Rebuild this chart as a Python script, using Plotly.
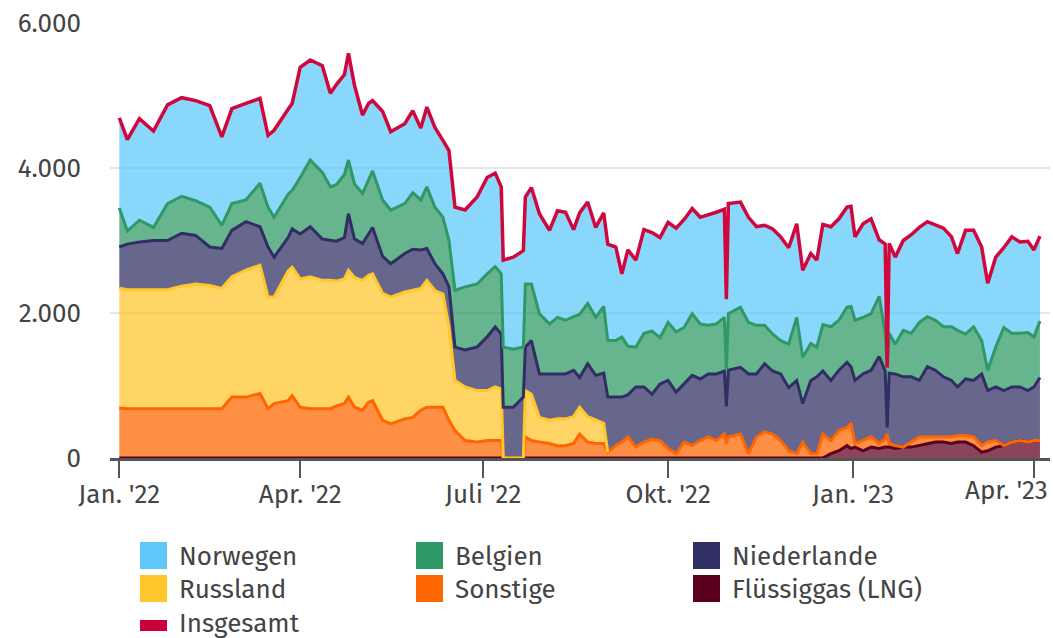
import plotly.graph_objects as go

# Gasimporte nach Deutschland (GWh/Tag)
dates = [
    "2022-01-01", "2022-01-05", "2022-01-11", "2022-01-18", "2022-01-25", "2022-02-01",
    "2022-02-08", "2022-02-15", "2022-02-21", "2022-02-26", "2022-03-05", "2022-03-12",
    "2022-03-16", "2022-03-19", "2022-03-26", "2022-03-28", "2022-04-01", "2022-04-06",
    "2022-04-12", "2022-04-16", "2022-04-19", "2022-04-23", "2022-04-25", "2022-04-28",
    "2022-05-02", "2022-05-05", "2022-05-07", "2022-05-12", "2022-05-16", "2022-05-23",
    "2022-05-27", "2022-05-31", "2022-06-03", "2022-06-07", "2022-06-11", "2022-06-14",
    "2022-06-17", "2022-06-22", "2022-06-28", "2022-07-03", "2022-07-07", "2022-07-10",
    "2022-07-11", "2022-07-16", "2022-07-21", "2022-07-22", "2022-07-25", "2022-07-29",
    "2022-08-03", "2022-08-07", "2022-08-11", "2022-08-15", "2022-08-18", "2022-08-22",
    "2022-08-26", "2022-08-30", "2022-09-01", "2022-09-05", "2022-09-08", "2022-09-11",
    "2022-09-15", "2022-09-19", "2022-09-23", "2022-09-27", "2022-10-01", "2022-10-05",
    "2022-10-09", "2022-10-13", "2022-10-17", "2022-10-21", "2022-10-25", "2022-10-29",
    "2022-10-30", "2022-10-31", "2022-11-06", "2022-11-10", "2022-11-14", "2022-11-18",
    "2022-11-22", "2022-11-26", "2022-11-30", "2022-12-04", "2022-12-07", "2022-12-11",
    "2022-12-14", "2022-12-17", "2022-12-21", "2022-12-25", "2022-12-29", "2022-12-31",
    "2023-01-02", "2023-01-06", "2023-01-10", "2023-01-14", "2023-01-17", "2023-01-18",
    "2023-01-19", "2023-01-22", "2023-01-26", "2023-01-30", "2023-02-03", "2023-02-07",
    "2023-02-11", "2023-02-15", "2023-02-19", "2023-02-22", "2023-02-26", "2023-03-02",
    "2023-03-06", "2023-03-09", "2023-03-13", "2023-03-17", "2023-03-21", "2023-03-25",
    "2023-03-29", "2023-04-01", "2023-04-04",
]

norwegen = [
    1240, 1260, 1400, 1330, 1360, 1360, 1380, 1400, 1220, 1310, 1330, 1170,
    990, 1200, 1170, 1200, 1520, 1380, 1470, 1290, 1380, 1380, 1470, 1360,
    1080, 1060, 970, 1220, 1080, 1100, 1130, 990, 1100, 1100, 1060, 1240,
    1150, 1060, 1200, 1330, 1290, 1200, 1200, 1270, 1330, 1200, 1330, 1380,
    1290, 1470, 1490, 1200, 1400, 1400, 1240, 1290, 1330, 1290, 870, 1330,
    1200, 1430, 1360, 1380, 1380, 1430, 1490, 1450, 1470, 1520, 1540, 1490,
    970, 1520, 1450, 1450, 1360, 1380, 1450, 1430, 1330, 1290, 1200, 1240,
    1200, 1380, 1380, 1400, 1380, 1380, 1150, 1290, 1310, 780, 1220, 0,
    1240, 1200, 1240, 1360, 1310, 1310, 1310, 1360, 1240, 1060, 1430, 1330,
    1290, 1200, 1240, 1100, 1330, 1260, 1260, 1200, 1170,
]

belgien = [
    540, 180, 300, 180, 510, 510, 480, 550, 320, 370, 300, 600,
    550, 550, 600, 530, 780, 920, 920, 740, 780, 870, 740, 760,
    690, 740, 780, 780, 740, 690, 780, 690, 850, 780, 780, 640,
    780, 870, 870, 870, 830, 830, 830, 800, 690, 870, 780, 830,
    690, 780, 740, 740, 870, 830, 800, 920, 780, 780, 830, 670,
    550, 740, 870, 640, 800, 830, 780, 850, 760, 670, 690, 740,
    510, 780, 830, 710, 670, 530, 510, 460, 600, 870, 640, 510,
    410, 640, 740, 690, 760, 830, 830, 780, 780, 830, 530, 830,
    550, 410, 640, 600, 800, 690, 690, 690, 740, 780, 620, 740,
    460, 280, 550, 870, 740, 740, 800, 690, 780,
]

niederlande = [
    570, 630, 660, 680, 680, 730, 670, 530, 550, 640, 670, 530,
    690, 550, 460, 530, 620, 690, 570, 550, 550, 570, 780, 530,
    510, 570, 640, 510, 460, 530, 570, 530, 440, 370, 280, 550,
    460, 510, 600, 740, 830, 760, 700, 700, 840, 600, 740, 600,
    640, 620, 620, 640, 410, 730, 620, 690, 760, 670, 620, 580,
    830, 760, 620, 780, 940, 850, 800, 970, 850, 870, 920, 870,
    510, 920, 920, 1100, 870, 940, 870, 920, 870, 1010, 530, 1010,
    1060, 870, 830, 830, 900, 780, 870, 920, 920, 1200, 940, 90,
    970, 990, 970, 900, 780, 970, 920, 830, 780, 670, 780, 780,
    990, 710, 740, 760, 760, 740, 710, 740, 870,
]

russland = [
    1650, 1640, 1640, 1640, 1640, 1690, 1720, 1700, 1660, 1660, 1750, 1770,
    1540, 1470, 1790, 1770, 1770, 1820, 1770, 1770, 1720, 1720, 1750, 1790,
    1790, 1750, 1750, 1750, 1750, 1750, 1750, 1680, 1750, 1610, 1560, 1290,
    690, 740, 710, 690, 740, 710, 0, 0, 0, 640, 640, 340,
    320, 370, 370, 370, 370, 350, 320, 280, 0, None, None, None,
    None, None, None, None, None, None, None, None, None, None, None, None,
    None, None, None, None, None, None, None, None, None, None, None, None,
    None, None, None, None, None, None, None, None, None, None, None, None,
    None, None, None, None, None, None, None, None, None, None, None, None,
    None, None, None, None, None, None, None, None, None,
]

sonstige = [
    690, 680, 680, 680, 680, 680, 680, 680, 680, 840, 840, 890,
    680, 750, 790, 860, 700, 680, 680, 680, 720, 750, 840, 700,
    660, 770, 790, 520, 470, 540, 560, 660, 700, 700, 700, 520,
    380, 240, 220, 240, 240, 240, 0, 0, 0, 290, 240, 220,
    200, 170, 170, 200, 330, 220, 200, 200, 80, 170, 220, 290,
    150, 220, 260, 240, 130, 60, 220, 170, 240, 290, 240, 330,
    200, 290, 330, 60, 290, 360, 330, 240, 100, 60, 220, 60,
    60, 330, 180, 280, 250, 350, 50, 140, 140, 70, 110, 180,
    50, 40, 0, 70, 120, 90, 70, 70, 90, 90, 90, 120,
    90, 120, 90, 0, 0, 0, 0, 0, 0,
]

lng = [
    None, None, None, None, None, None, None, None, None, None, None, None,
    None, None, None, None, None, None, None, None, None, None, None, None,
    None, None, None, None, None, None, None, None, None, None, None, None,
    None, None, None, None, None, None, None, None, None, None, None, None,
    None, None, None, None, None, None, None, None, None, None, None, None,
    None, None, None, None, None, None, None, None, None, None, None, None,
    None, None, None, None, None, None, None, None, None, None, None, None,
    None, None, 60, 100, 170, 130, 150, 100, 150, 130, 150, 150,
    150, 130, 150, 150, 170, 200, 220, 220, 200, 220, 220, 170,
    80, 100, 150, 170, 220, 240, 220, 240, 240,
]

tick_dates = ["2022-01-01", "2022-04-01", "2022-07-01", "2022-10-01", "2023-01-01", "2023-04-01"]
tick_labels = ["Jan. '22", "Apr. '22", "Juli '22", "Okt. '22", "Jan. '23", "Apr. '23"]

# stacked from the bottom up
layers = [
    ("Flüssiggas (LNG)", lng, "#5c0020"),
    ("Sonstige", sonstige, "#ff6600"),
    ("Russland", russland, "#ffc72c"),
    ("Niederlande", niederlande, "#2f2f63"),
    ("Belgien", belgien, "#2e9966"),
    ("Norwegen", norwegen, "#5ec8fb"),
]
total_color = "#d0073c"

FONT = "Fira Sans, Open Sans, sans-serif"
TEXT = "#444444"
FS = 26


def fill_of(hex_color, alpha=0.73):
    r, g, b = (int(hex_color[i:i + 2], 16) for i in (1, 3, 5))
    return f"rgba({r},{g},{b},{alpha})"


fig = go.Figure()

# areas (fill only), stacked by plotly
for name, values, color in layers:
    fig.add_trace(go.Scatter(
        x=dates, y=[v or 0 for v in values], name=name, mode="lines", stackgroup="gas",
        line=dict(width=0), fillcolor=fill_of(color), showlegend=False,
    ))

# upper edge of every layer, only where the country has data
running = [0] * len(dates)
for name, values, color in layers[:-1]:
    running = [r + (v or 0) for r, v in zip(running, values)]
    if name == "Flüssiggas (LNG)":
        edge = running[:]
    else:
        edge = [r if v is not None else None for r, v in zip(running, values)]
    fig.add_trace(go.Scatter(
        x=dates, y=edge, mode="lines", line=dict(color=color, width=3),
        connectgaps=False, showlegend=False,
    ))

insgesamt = [sum(v[i] or 0 for _, v, _ in layers) for i in range(len(dates))]
fig.add_trace(go.Scatter(
    x=dates, y=insgesamt, name="Insgesamt", mode="lines",
    line=dict(color=total_color, width=3.5), showlegend=False,
))

# legend drawn by hand: three columns like the original
PL, PR, PT, PB = 110, 1050, 23, 458


def px_x(x):
    return (x - PL) / (PR - PL)


def px_y(y):
    return (PB - y) / (PB - PT)


legend_items = [
    ("Norwegen", "#5ec8fb", 0, 0), ("Belgien", "#2e9966", 1, 0), ("Niederlande", "#2f2f63", 2, 0),
    ("Russland", "#ffc72c", 0, 1), ("Sonstige", "#ff6600", 1, 1), ("Flüssiggas (LNG)", "#5c0020", 2, 1),
    ("Insgesamt", "#c8003a", 0, 2),
]
col_x = [140, 416, 693]
row_y = [542, 575]

shapes, annotations = [], []
for label, color, col, row in legend_items:
    x0 = col_x[col]
    if row < 2:
        y0, y1, ty = row_y[row], row_y[row] + 27, row_y[row] + 14
    else:
        y0, y1, ty = 620, 631, 623
    shapes.append(dict(type="rect", xref="paper", yref="paper",
                       x0=px_x(x0), x1=px_x(x0 + 27), y0=px_y(y1), y1=px_y(y0),
                       fillcolor=color, line=dict(width=0)))
    annotations.append(dict(text=label, xref="paper", yref="paper", x=px_x(x0 + 37), y=px_y(ty),
                            xanchor="left", yanchor="middle", showarrow=False,
                            font=dict(family=FONT, size=FS, color=TEXT)))

# last month label sits flush with the right edge, as in the original
annotations.append(dict(text=tick_labels[-1], xref="paper", yref="paper", x=1.0, y=px_y(491),
                        xanchor="right", yanchor="middle", showarrow=False,
                        font=dict(family=FONT, size=FS, color=TEXT)))

fig.update_layout(
    width=1053, height=638,
    margin=dict(l=PL, r=1053 - PR, t=PT, b=638 - PB),
    paper_bgcolor="white", plot_bgcolor="white",
    separators=",.",
    font=dict(family=FONT, size=FS, color=TEXT),
    shapes=shapes, annotations=annotations,
    hovermode=False,
    xaxis=dict(
        type="date", range=["2021-12-27 09:00", "2023-04-09"],
        tickvals=tick_dates, ticktext=tick_labels[:-1] + [""],
        ticks="outside", ticklen=17, tickwidth=2, tickcolor="#555555",
        showline=True, linecolor="#555555", linewidth=2.5,
        showgrid=False, zeroline=False, ticklabelstandoff=-6,
        tickfont=dict(family=FONT, size=FS, color=TEXT),
    ),
    yaxis=dict(
        range=[0, 6000], tickvals=[0, 2000, 4000, 6000], tickformat=",d",
        showgrid=True, gridcolor="#e6e6e6", gridwidth=2,
        zeroline=False, showline=False, ticks="",
        ticklabelstandoff=28,
        tickfont=dict(family=FONT, size=FS, color=TEXT),
    ),
)

fig.write_html("out.html", config={"displayModeBar": False},
               post_script="document.body.style.margin = '0';")
